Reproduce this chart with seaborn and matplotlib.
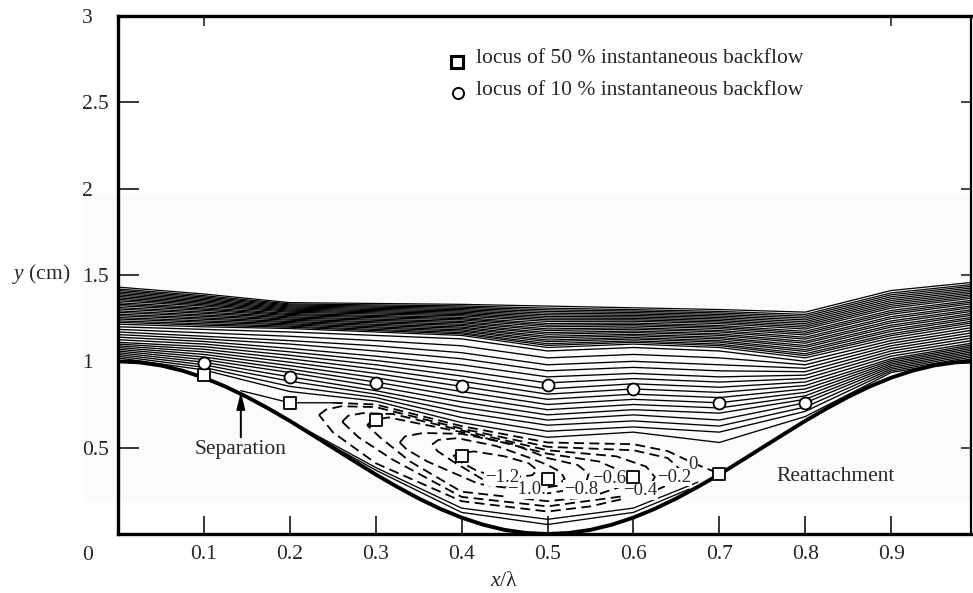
import numpy as np
import pandas as pd
import matplotlib
matplotlib.use("Agg")
import matplotlib.pyplot as plt
from matplotlib.patches import Rectangle
import seaborn as sns

sns.set_style("ticks")
plt.rcParams["font.family"] = ["Liberation Serif", "DejaVu Serif"]
plt.rcParams["mathtext.fontset"] = "custom"
plt.rcParams["mathtext.rm"] = "Liberation Serif"
plt.rcParams["mathtext.it"] = "Liberation Serif:italic"

# ---------------------------------------------------------------- data
# measuring stations along one wavelength
STATIONS = [0.0, 0.1, 0.2, 0.3, 0.4, 0.5, 0.6, 0.7, 0.8, 0.9, 1.0]

# wavy wall profile
WALL_X = [round(0.025 * i, 3) for i in range(41)]
WALL_Y = [1.000, 0.994, 0.976, 0.946, 0.905, 0.854, 0.794, 0.727, 0.655, 0.578,
          0.500, 0.422, 0.345, 0.273, 0.206, 0.146, 0.095, 0.054, 0.024, 0.006,
          0.000, 0.006, 0.024, 0.054, 0.095, 0.146, 0.206, 0.273, 0.345, 0.422,
          0.500, 0.578, 0.655, 0.727, 0.794, 0.854, 0.905, 0.946, 0.976, 0.994,
          1.000]

# outer streamlines: heights (cm) at each station, lowest line first
STREAM_Y = [
    [1.020, 1.030, 1.040, 1.050, 1.060, 1.070, 1.080, 1.090, 1.100, 1.110, 1.125, 1.140, 1.155, 1.170, 1.185, 1.200],
    [0.950, 0.965, 0.980, 0.995, 1.010, 1.025, 1.040, 1.055, 1.070, 1.085, 1.100, 1.115, 1.130, 1.145, 1.165, 1.185],
    [0.825, 0.855, 0.885, 0.910, 0.935, 0.955, 0.975, 0.995, 1.015, 1.035, 1.055, 1.075, 1.100, 1.120, 1.145, 1.170],
    [0.770, 0.790, 0.810, 0.830, 0.855, 0.880, 0.905, 0.930, 0.955, 0.980, 1.005, 1.030, 1.060, 1.090, 1.120, 1.150],
    [0.645, 0.675, 0.705, 0.735, 0.765, 0.795, 0.825, 0.855, 0.885, 0.915, 0.945, 0.980, 1.015, 1.050, 1.090, 1.130],
    [0.560, 0.595, 0.630, 0.660, 0.690, 0.720, 0.750, 0.780, 0.810, 0.840, 0.875, 0.910, 0.945, 0.980, 1.020, 1.060],
    [0.590, 0.620, 0.655, 0.690, 0.720, 0.750, 0.780, 0.810, 0.840, 0.870, 0.900, 0.930, 0.965, 1.000, 1.040, 1.080],
    [0.530, 0.590, 0.625, 0.660, 0.700, 0.730, 0.760, 0.790, 0.820, 0.850, 0.880, 0.910, 0.945, 0.980, 1.020, 1.060],
    [0.680, 0.710, 0.735, 0.760, 0.780, 0.800, 0.820, 0.840, 0.860, 0.880, 0.900, 0.920, 0.940, 0.960, 0.980, 1.000],
    [0.935, 0.945, 0.955, 0.965, 0.975, 0.985, 0.995, 1.005, 1.015, 1.030, 1.045, 1.060, 1.075, 1.090, 1.105, 1.120],
    [1.020, 1.030, 1.040, 1.050, 1.060, 1.070, 1.080, 1.090, 1.100, 1.110, 1.125, 1.140, 1.155, 1.170, 1.185, 1.200],
]

# closely packed streamlines of the outer layer
BAND_BOTTOM = [1.215, 1.200, 1.190, 1.170, 1.150, 1.080, 1.100, 1.080, 1.020, 1.135, 1.215]
BAND_TOP = [1.430, 1.390, 1.340, 1.335, 1.330, 1.320, 1.310, 1.300, 1.285, 1.410, 1.460]
BAND_FRACTIONS = [0.00, 0.05, 0.09, 0.14, 0.18, 0.23, 0.27, 0.32, 0.36, 0.41, 0.45, 0.50,
                  0.54, 0.58, 0.63, 0.67, 0.71, 0.75, 0.79, 0.83, 0.87, 0.91, 0.95, 1.00]

# solid streamlines hugging the wall inside the separated zone
NEAR_WALL_X = [[0.165, 0.30, 0.40, 0.50, 0.60, 0.675],
               [0.210, 0.30, 0.40, 0.50, 0.60, 0.665]]
NEAR_WALL_Y = [[0.750, 0.385, 0.150, 0.085, 0.150, 0.300],
               [0.620, 0.370, 0.125, 0.055, 0.125, 0.260]]

# dividing streamline (psi = 0): solid from separation, then dashed
DIVIDING_SOLID_X = [0.143, 0.20, 0.25]
DIVIDING_SOLID_Y = [0.830, 0.76, 0.76]
DIVIDING_DASH_X = [0.25, 0.30, 0.40, 0.50, 0.60, 0.64, 0.67, 0.70]
DIVIDING_DASH_Y = [0.76, 0.75, 0.625, 0.53, 0.52, 0.48, 0.41, 0.35]

# closed recirculation contours
PSI_LEVELS = [-0.2, -0.4, -0.6, -0.8, -1.0, -1.2]
PSI_X = [
    [0.234, 0.242, 0.26, 0.30, 0.40, 0.50, 0.60, 0.64, 0.655, 0.652, 0.62, 0.55, 0.50, 0.40, 0.30, 0.25, 0.234],
    [0.261, 0.268, 0.285, 0.32, 0.40, 0.50, 0.58, 0.615, 0.625, 0.618, 0.59, 0.50, 0.40, 0.32, 0.28, 0.261],
    [0.290, 0.296, 0.315, 0.40, 0.50, 0.56, 0.583, 0.59, 0.583, 0.55, 0.50, 0.40, 0.34, 0.305, 0.29],
    [0.328, 0.334, 0.355, 0.40, 0.46, 0.50, 0.535, 0.548, 0.545, 0.53, 0.50, 0.42, 0.36, 0.336, 0.328],
    [0.366, 0.373, 0.395, 0.44, 0.48, 0.50, 0.515, 0.52, 0.512, 0.48, 0.43, 0.39, 0.372, 0.366],
    [0.390, 0.397, 0.415, 0.45, 0.478, 0.488, 0.482, 0.455, 0.42, 0.398, 0.39],
]
PSI_Y = [
    [0.69, 0.72, 0.74, 0.735, 0.61, 0.505, 0.485, 0.44, 0.37, 0.31, 0.24, 0.16, 0.13, 0.19, 0.41, 0.59, 0.69],
    [0.65, 0.685, 0.70, 0.695, 0.60, 0.485, 0.45, 0.39, 0.33, 0.27, 0.22, 0.16, 0.215, 0.43, 0.56, 0.65],
    [0.63, 0.66, 0.675, 0.59, 0.465, 0.42, 0.37, 0.32, 0.27, 0.215, 0.19, 0.245, 0.42, 0.56, 0.63],
    [0.53, 0.565, 0.585, 0.58, 0.52, 0.44, 0.40, 0.35, 0.30, 0.26, 0.235, 0.29, 0.42, 0.49, 0.53],
    [0.52, 0.545, 0.555, 0.51, 0.44, 0.40, 0.36, 0.32, 0.28, 0.255, 0.30, 0.42, 0.48, 0.52],
    [0.45, 0.47, 0.478, 0.45, 0.41, 0.37, 0.34, 0.325, 0.36, 0.42, 0.45],
]
PSI_LABELS = ["0", "\u22120.2", "\u22120.4", "\u22120.6", "\u22120.8", "\u22121.0.", "\u22121.2"]
PSI_LABEL_X = [0.669, 0.647, 0.608, 0.572, 0.539, 0.476, 0.447]
PSI_LABEL_Y = [0.400, 0.330, 0.250, 0.320, 0.260, 0.255, 0.330]

# loci of instantaneous backflow
BACKFLOW50_X = [0.1, 0.2, 0.3, 0.4, 0.5, 0.6, 0.7]
BACKFLOW50_Y = [0.92, 0.76, 0.66, 0.45, 0.32, 0.33, 0.35]
BACKFLOW10_X = [0.1, 0.2, 0.3, 0.4, 0.5, 0.6, 0.7, 0.8]
BACKFLOW10_Y = [0.99, 0.91, 0.875, 0.86, 0.865, 0.84, 0.76, 0.76]

X_TICKS = [0.1, 0.2, 0.3, 0.4, 0.5, 0.6, 0.7, 0.8, 0.9]
X_TICK_LABELS = ["0.1", "0.2", "0.3", "0.4", "0.5", "0.6", "0.7", "0.8", "0.9"]
Y_TICKS = [0.5, 1.0, 1.5, 2.0, 2.5, 3.0]
Y_TICK_LABELS = ["0.5", "1", "1.5", "2", "2.5", "3"]

# ---------------------------------------------------------------- tables
solid_rows = []
line_id = 0
stream = np.array(STREAM_Y)           # station x line
for j in range(stream.shape[1]):
    for xs, ys in zip(STATIONS, stream[:, j]):
        solid_rows.append((line_id, xs, ys))
    line_id += 1
bb, bt = np.array(BAND_BOTTOM), np.array(BAND_TOP)
band_rows = []
for f in BAND_FRACTIONS:
    for xs, ys in zip(STATIONS, bb + f * (bt - bb)):
        band_rows.append((line_id, xs, ys))
    line_id += 1
for xl, yl in zip(NEAR_WALL_X + [DIVIDING_SOLID_X], NEAR_WALL_Y + [DIVIDING_SOLID_Y]):
    for xs, ys in zip(xl, yl):
        solid_rows.append((line_id, xs, ys))
    line_id += 1
dash_rows = []
for xl, yl in zip([DIVIDING_DASH_X] + PSI_X, [DIVIDING_DASH_Y] + PSI_Y):
    for xs, ys in zip(xl, yl):
        dash_rows.append((line_id, xs, ys))
    line_id += 1

solid_df = pd.DataFrame(solid_rows, columns=["line", "x", "y"])
band_df = pd.DataFrame(band_rows, columns=["line", "x", "y"])
dash_df = pd.DataFrame(dash_rows, columns=["line", "x", "y"])
wall_df = pd.DataFrame({"x": WALL_X, "y": WALL_Y})

# ---------------------------------------------------------------- figure
W, H = 973, 593
fig = plt.figure(figsize=(W / 100, H / 100), dpi=100)
ax = fig.add_axes([118 / W, 1 - 534 / H, 853 / W, 518 / H])
ax.set_facecolor("none")
# light grey tint of the printed page
ax.add_patch(Rectangle((83 / W, 1 - 502 / H), (W - 83) / W, (502 - 195) / H,
                       transform=fig.transFigure, facecolor="#fbfbfb",
                       edgecolor="none", zorder=0, clip_on=False))

sns.lineplot(data=band_df, x="x", y="y", units="line", estimator=None, sort=False,
             color="black", lw=0.9, ax=ax, legend=False, zorder=2)
sns.lineplot(data=solid_df, x="x", y="y", units="line", estimator=None, sort=False,
             color="black", lw=0.95, ax=ax, legend=False, zorder=2)
dash_start = len(ax.lines)
sns.lineplot(data=dash_df, x="x", y="y", units="line", estimator=None, sort=False,
             color="black", lw=1.3, ax=ax, legend=False, zorder=2)
for ln in ax.lines[dash_start:]:
    ln.set_dashes((5.5, 3.0))
sns.lineplot(data=wall_df, x="x", y="y", sort=False, color="black", lw=2.8,
             ax=ax, legend=False, zorder=3)

for txt, lx, ly in zip(PSI_LABELS, PSI_LABEL_X, PSI_LABEL_Y):
    ax.text(lx, ly, txt, fontsize=13.5, ha="center", va="center", zorder=4,
            bbox=dict(boxstyle="square,pad=0.05", facecolor="white", edgecolor="none"))

sns.scatterplot(x=BACKFLOW50_X, y=BACKFLOW50_Y, marker="s", s=64, color="white",
                edgecolor="black", linewidth=1.3, ax=ax, zorder=5, legend=False)
sns.scatterplot(x=BACKFLOW10_X, y=BACKFLOW10_Y, marker="o", s=74, color="white",
                edgecolor="black", linewidth=1.3, ax=ax, zorder=5, legend=False)

# key
ax.plot([0.3946], [2.733], marker="s", ms=8.5, mfc="white", mec="black", mew=2.2, zorder=5)
ax.plot([0.3958], [2.556], marker="o", ms=8.0, mfc="white", mec="black", mew=1.4, zorder=5)
ax.text(0.4168, 2.727, "locus of 50 % instantaneous backflow", fontsize=15.5, va="baseline")
ax.text(0.4168, 2.542, "locus of 10 % instantaneous backflow", fontsize=15.5, va="baseline")

# annotations
ax.annotate("", xy=(0.143, 0.822), xytext=(0.143, 0.56),
            arrowprops=dict(arrowstyle="-|>,head_length=1.0,head_width=0.25",
                            color="black", lw=1.4, shrinkA=0, shrinkB=0))
ax.text(0.143, 0.492, "Separation", fontsize=15.5, ha="center", va="center")
ax.text(0.836, 0.332, "Reattachment", fontsize=15.5, ha="center", va="center")

# axes
ax.set_xlim(0, 853 / 859)
ax.set_ylim(0, 3.0)
ax.set_xticks(X_TICKS)
ax.set_xticklabels(X_TICK_LABELS)
ax.set_yticks(Y_TICKS)
ax.set_yticklabels(Y_TICK_LABELS)
ax.tick_params(axis="x", direction="in", length=13, width=1.3, pad=8, labelsize=15.5)
ax.tick_params(axis="y", direction="in", length=15, width=1.3, pad=26, labelsize=15.5)
for lbl in ax.get_yticklabels():
    lbl.set_horizontalalignment("left")
for side in ["left", "bottom", "top"]:
    ax.spines[side].set_linewidth(2.4)
ax.spines["right"].set_linewidth(1.6)
for sp in ax.spines.values():
    sp.set_visible(True)
    sp.set_color("black")

top = ax.secondary_xaxis("top")
top.set_xticks([0.1, 0.9])
top.tick_params(direction="in", length=7, width=1.2, labeltop=False)
top.spines["top"].set_visible(False)
right = ax.secondary_yaxis("right")
right.set_yticks([0.5, 1.0, 1.5, 2.0, 2.5])
right.tick_params(direction="in", length=7, width=1.2, labelright=False)
right.spines["right"].set_visible(False)

ax.set_xlabel("")
ax.set_ylabel("")
fig.text(504 / W, 1 - 582 / H, "$x$/\u03bb", fontsize=15.5, ha="center", va="center")
fig.text(70 / W, 1 - 274 / H, "$y$ (cm)", fontsize=15.5, ha="right", va="center")
fig.text(88 / W, 1 - 555 / H, "0", fontsize=15.5, ha="center", va="center")

fig.savefig("out.png", dpi=100)
